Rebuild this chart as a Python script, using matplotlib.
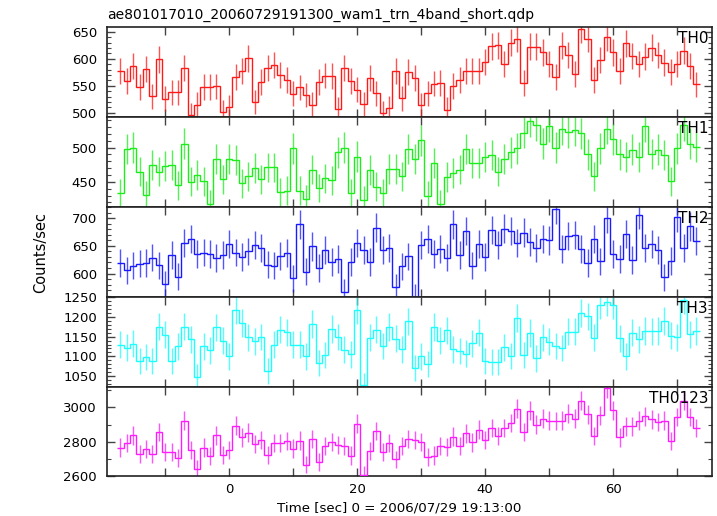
import matplotlib
matplotlib.use("Agg")
import matplotlib.pyplot as plt
from matplotlib.ticker import MultipleLocator, FuncFormatter
import numpy as np

plt.rcParams['font.family'] = ['DejaVu Sans']

# 1 s light-curve bins, centres from -17 to 73 s
time = np.arange(-17, 74)
BINSIZE = 1.0

th0 = [578, 559, 586, 548, 581, 531, 599, 526, 538, 538, 583, 496, 515, 548, 548, 549, 501,
       511, 567, 577, 601, 520, 557, 583, 588, 570, 561, 535, 547, 533, 515, 557, 569, 568, 507, 583, 559, 543,
       516, 564, 536, 499, 509, 578, 527, 576, 564, 514, 536, 554, 555, 506, 550, 561,
       578, 578, 578, 594, 623, 625, 590, 630, 637, 555, 622, 622, 612, 590, 567, 624, 607, 572, 655, 637,
       561, 598, 640, 612, 578, 629, 605, 590, 604, 621, 607, 593, 575, 590, 615, 587, 553]
th1 = [433, 498, 500, 465, 431, 475, 465, 473, 475, 445, 506, 450, 460, 451, 418, 484, 454,
       484, 482, 448, 458, 470, 454, 471, 471, 435, 437, 499, 437, 425, 468, 441, 455, 452, 493, 500, 433, 487,
       423, 467, 443, 433, 469, 469, 458, 498, 484, 511, 430, 477, 417, 457, 463, 468,
       498, 478, 478, 486, 489, 465, 484, 493, 499, 522, 539, 533, 506, 531, 500, 527, 523, 526, 521, 490,
       458, 499, 528, 512, 490, 486, 497, 486, 531, 491, 497, 489, 451, 499, 533, 506, 501]
th2 = [619, 606, 614, 618, 619, 629, 615, 581, 634, 594, 655, 663, 636, 638, 635, 628, 633,
       654, 638, 630, 640, 652, 646, 616, 614, 632, 637, 591, 689, 603, 649, 610, 643, 621, 626, 567, 621, 655,
       643, 621, 683, 643, 646, 575, 613, 631, 558, 652, 663, 635, 644, 629, 689, 634,
       677, 614, 654, 630, 679, 652, 681, 677, 656, 674, 657, 646, 663, 660, 717, 644, 668, 670, 644, 619,
       663, 622, 700, 635, 626, 672, 625, 707, 646, 654, 643, 593, 623, 702, 646, 686, 659]
th3 = [1130, 1122, 1132, 1089, 1099, 1089, 1175, 1155, 1089, 1125, 1175, 1143, 1049, 1125, 1115, 1173, 1140,
       1100, 1217, 1184, 1148, 1138, 1149, 1064, 1130, 1167, 1161, 1130, 1130, 1100, 1182, 1083, 1104, 1169, 1149, 1117, 1105, 1216,
       1027, 1147, 1167, 1126, 1174, 1145, 1118, 1188, 1070, 1100, 1082, 1174, 1140, 1166, 1118, 1114,
       1107, 1133, 1160, 1089, 1086, 1085, 1123, 1101, 1197, 1103, 1159, 1095, 1148, 1137, 1126, 1121, 1162, 1162, 1209, 1201,
       1147, 1230, 1237, 1229, 1146, 1100, 1160, 1143, 1164, 1163, 1164, 1189, 1152, 1148, 1243, 1156, 1164]
th0123 = [2767, 2793, 2837, 2728, 2759, 2728, 2856, 2742, 2742, 2709, 2922, 2755, 2646, 2767, 2719, 2837, 2726,
          2755, 2893, 2826, 2853, 2786, 2812, 2726, 2793, 2793, 2805, 2761, 2807, 2669, 2818, 2682, 2778, 2799, 2780, 2774, 2721, 2904,
          2608, 2747, 2862, 2740, 2795, 2698, 2774, 2816, 2809, 2799, 2713, 2721, 2778, 2768, 2830, 2778,
          2849, 2797, 2870, 2812, 2881, 2833, 2881, 2908, 2990, 2856, 2979, 2900, 2933, 2923, 2920, 2923, 2962, 2933, 3038, 2958,
          2833, 2954, 3111, 2981, 2826, 2889, 2889, 2923, 2948, 2929, 2914, 2923, 2803, 2943, 3038, 2943, 2879]

bands = ['TH0', 'TH1', 'TH2', 'TH3', 'TH0123']
series = [th0, th1, th2, th3, th0123]
colors = ['#ff1a1a', '#1aef1a', '#1a1aff', '#1affff', '#ff1aff']
ylims = [(492.5, 659), (413.5, 545), (558, 721), (1024, 1250.5), (2600, 3119)]
ymajor = [50, 50, 50, 50, 200]
yminor = [10, 10, 10, 10, 100]

fig = plt.figure(figsize=(7.17, 5.16), dpi=100)
axes = fig.subplots(5, 1, sharex=True, gridspec_kw=dict(hspace=0))
fig.subplots_adjust(left=0.1488, right=0.9926, bottom=0.0766, top=0.9477)

edges = np.append(time - BINSIZE / 2, time[-1] + BINSIZE / 2)
for ax, name, vals, col, yl, ma, mi in zip(axes, bands, series, colors, ylims, ymajor, yminor):
    vals = np.asarray(vals, dtype=float)
    # Poisson errors for 1 s bins
    err = np.sqrt(vals * BINSIZE) / BINSIZE
    ax.errorbar(time, vals, yerr=err, fmt='none', ecolor=col, elinewidth=1.0,
                capsize=0, alpha=0.75, zorder=2)
    ax.stairs(vals, edges, baseline=None, color=col, linewidth=1.0, zorder=3)
    ax.set_ylim(*yl)
    ax.yaxis.set_major_locator(MultipleLocator(ma))
    ax.yaxis.set_minor_locator(MultipleLocator(mi))
    ax.text(0.994, 0.955, name, transform=ax.transAxes, ha='right', va='top',
            fontsize=11, color='black', zorder=5)
    ax.tick_params(which='both', direction='in', left=True, right=True, top=True, bottom=True,
                   colors='#444444', labelcolor='black', labelsize=9.5)
    ax.tick_params(axis='y', which='major', length=6, width=1, pad=7)
    ax.tick_params(axis='y', which='minor', length=3, width=0.8)
    ax.tick_params(axis='x', which='both', length=6, width=1, pad=4.5)
    for sp in ax.spines.values():
        sp.set_color('#222222')
        sp.set_linewidth(1.2)

axes[-1].set_xlim(-19.15, 75.4)
axes[-1].xaxis.set_major_locator(MultipleLocator(20))
axes[-1].xaxis.set_minor_locator(MultipleLocator(10))
axes[-1].xaxis.set_major_formatter(FuncFormatter(lambda v, p: '%d' % v))

fig.text(0.1492, 0.9626, 'ae801017010_20060729191300_wam1_trn_4band_short.qdp',
         ha='left', va='baseline', fontsize=10)
fig.text(0.057, 0.5097, 'Counts/sec', rotation=90, ha='center', va='center', fontsize=10.5)
fig.text(0.557, 0.0083, 'Time [sec] 0 = 2006/07/29 19:13:00', ha='center', va='baseline', fontsize=9.6)

fig.savefig('out.png', dpi=100)
